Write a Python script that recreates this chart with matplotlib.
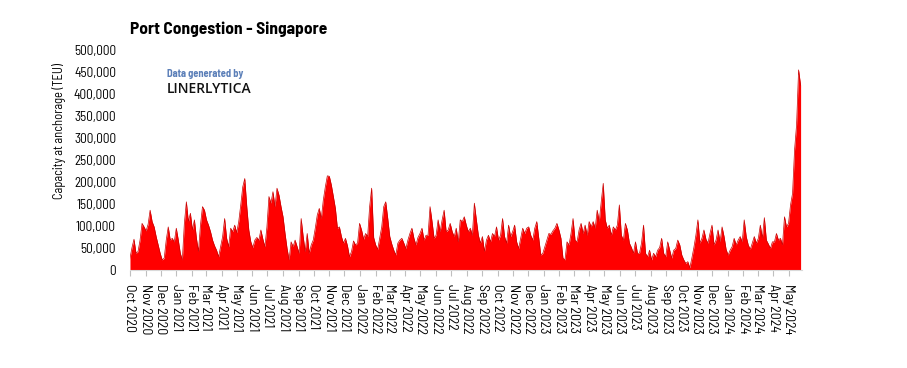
import matplotlib
matplotlib.use("Agg")
import matplotlib.pyplot as plt
import matplotlib.dates as mdates
import matplotlib.ticker as mticker
from matplotlib import font_manager
import numpy as np
import pandas as pd

# Kapazität vor Anker (in 1000 TEU), ein Wert alle 4 Tage ab 1. Okt 2020
capacity_k = [
    27, 51, 70, 38, 42, 68, 106, 98,          # Oct 2020
    89, 104, 136, 110, 98, 76, 57, 38,        # Nov 2020
    23, 27, 68, 98, 68, 72, 64,               # Dec 2020
    95, 68, 38, 23, 106, 155, 110, 129,       # Jan 2021
    91, 114, 72, 42, 102, 144, 136,           # Feb 2021
    114, 102, 87, 68, 55, 45, 30, 53,         # Mar 2021
    76, 117, 72, 53, 95, 87, 102,             # Apr 2021
    85, 110, 148, 189, 208, 144, 91, 64,      # May 2021
    51, 68, 74, 68, 91, 70, 53, 98,           # Jun 2021
    167, 152, 178, 144, 186, 170, 144,        # Jul 2021
    121, 83, 49, 23, 64, 53, 68, 53,          # Aug 2021
    38, 117, 76, 42, 83, 38, 57, 68,          # Sep 2021
    95, 125, 140, 117, 159, 189, 214,         # Oct 2021
    213, 193, 167, 140, 95, 98, 76, 61,       # Nov 2021
    72, 55, 30, 42, 66, 57, 61, 106,          # Dec 2021
    91, 70, 83, 76, 144, 186, 74,             # Jan 2022
    57, 47, 72, 98, 144, 155, 117,            # Feb 2022
    76, 59, 45, 34, 61, 68, 72, 61,           # Mar 2022
    49, 68, 83, 95, 72, 57, 74, 83,           # Apr 2022
    95, 68, 79, 79, 144, 110, 72,             # May 2022
    79, 114, 87, 114, 136, 87, 91, 106,       # Jun 2022
    87, 76, 95, 64, 114, 110, 121, 102,       # Jul 2022
    87, 95, 79, 152, 114, 79, 61,             # Aug 2022
    76, 42, 68, 79, 64, 83, 76, 98,           # Sep 2022
    68, 79, 117, 76, 61, 102, 76, 87,         # Oct 2022
    102, 64, 49, 72, 95, 83, 95,              # Nov 2022
    98, 79, 68, 95, 110, 72, 34, 38,          # Dec 2022
    53, 68, 83, 81, 89, 95, 106, 91,          # Jan 2023
    72, 27, 23, 64, 57, 83, 117,              # Feb 2023
    68, 64, 91, 106, 83, 102, 79,             # Mar 2023
    110, 98, 110, 95, 136, 110, 155, 197,     # Apr 2023
    114, 95, 102, 79, 98, 91, 102, 148,       # May 2023
    79, 68, 106, 91, 61, 51, 38,              # Jun 2023
    64, 38, 38, 61, 102, 38, 30, 45,          # Jul 2023
    23, 38, 30, 45, 51, 72, 38, 30,           # Aug 2023
    64, 45, 27, 45, 49, 68, 57,               # Sep 2023
    34, 23, 15, 19, 5, 27, 51, 79,            # Oct 2023
    114, 61, 72, 91, 70, 61, 83,              # Nov 2023
    102, 57, 68, 91, 64, 98, 76, 47,          # Dec 2023
    34, 45, 53, 72, 57, 68, 76, 64,           # Jan 2024
    114, 76, 57, 47, 61, 76, 61,              # Feb 2024
    72, 102, 72, 119, 68, 59, 49, 64,         # Mar 2024
    64, 83, 68, 72, 57, 121, 98,              # Apr 2024
    106, 148, 174, 273, 330, 455, 420,        # May 2024
]
start_date = "2020-10-01"

dates = pd.date_range(start_date, periods=len(capacity_k), freq="4D")
values = np.array(capacity_k) * 1000

# schmale Schrift suchen (wie Bahnschrift im Original)
installed = {f.name for f in font_manager.fontManager.ttflist}
narrow_name = "DejaVu Sans"
for cand in ["Barlow Semi Condensed", "Barlow Condensed", "Roboto Condensed",
             "Asap Condensed", "Liberation Sans Narrow"]:
    if cand in installed:
        narrow_name = cand
        break
narrow = [narrow_name, "DejaVu Sans"]

fig = plt.figure(figsize=(9.07, 3.68), dpi=100)
ax = fig.add_axes([0.1433, 0.2663, 0.7405, 0.5977])

ax.fill_between(dates, values, color="#ff0000", linewidth=0)
ax.plot(dates, values, color="#c80000", linewidth=0.5)

ax.set_ylim(0, 500000)
ax.set_xlim(dates[0], dates[-1] + pd.Timedelta(days=2))
ax.yaxis.set_major_locator(mticker.MultipleLocator(50000))
ax.yaxis.set_major_formatter(mticker.FuncFormatter(lambda v, p: f"{int(v):,}"))

ax.xaxis.set_major_locator(mdates.MonthLocator())
ax.xaxis.set_major_formatter(mdates.DateFormatter("%b %Y"))

for s in ["top", "right", "left"]:
    ax.spines[s].set_visible(False)
ax.spines["bottom"].set_color("#d9d9d9")
ax.spines["bottom"].set_linewidth(0.8)

ax.tick_params(axis="y", length=0, pad=10)
ax.tick_params(axis="x", length=4, color="#bfbfbf", pad=6)
for lbl in ax.get_yticklabels():
    lbl.set_family(narrow)
    lbl.set_fontsize(9.5)
for lbl in ax.get_xticklabels():
    lbl.set_family(narrow)
    lbl.set_fontsize(10)
    lbl.set_rotation(-90)
    lbl.set_ha("center")
    lbl.set_va("top")

ax.text(0.0, 1.06, "Port Congestion - Singapore", transform=ax.transAxes,
        family=narrow, fontsize=12.5, fontweight="bold", va="bottom", ha="left")

fig.text(59 / 907, 1 - 131 / 368, "Capacity at anchorage (TEU)", rotation=90,
         family=narrow, fontsize=9, ha="center", va="center")

fig.text(167 / 907, 1 - 74 / 368, "Data generated by", family=narrow,
         fontsize=7.5, fontweight="bold", color="#5b7fb8", va="center")
fig.text(167 / 907, 1 - 89 / 368, "LINERLYTICA", family=["Open Sans", "DejaVu Sans"],
         fontsize=10, fontweight="semibold", color="#111111", va="center")

fig.savefig("out.png", dpi=100, facecolor="white")
